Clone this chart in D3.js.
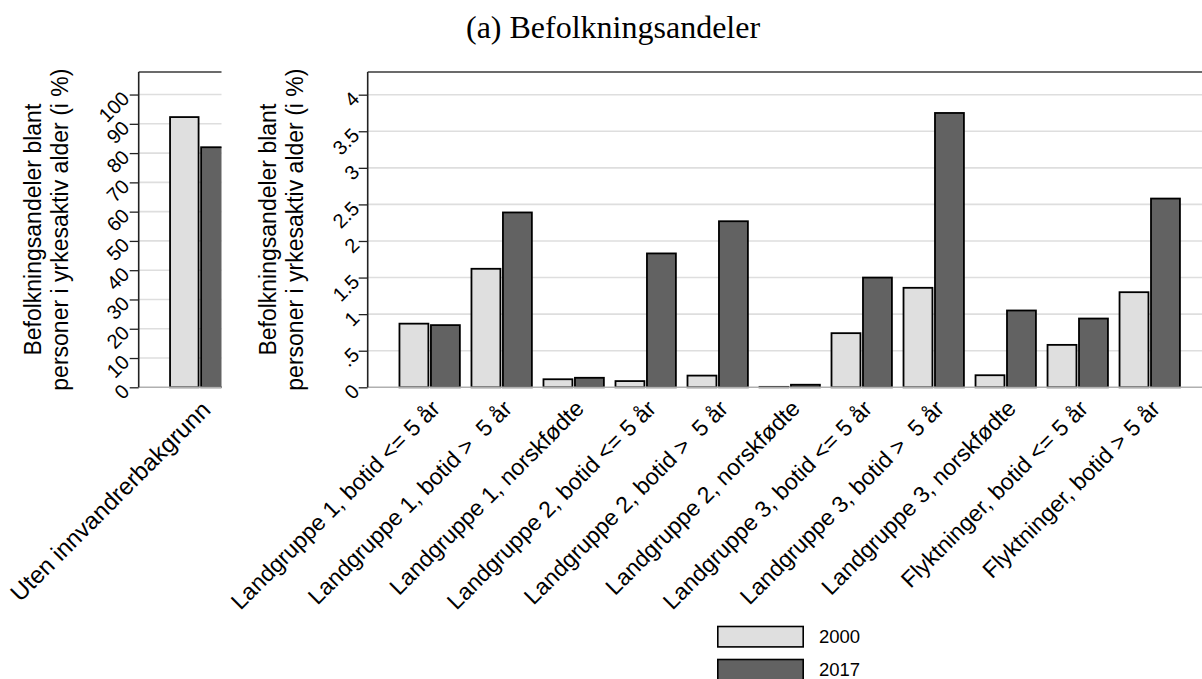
<!DOCTYPE html>
<html>
<head>
<meta charset="utf-8">
<script src="https://cdn.jsdelivr.net/npm/d3@7/dist/d3.min.js"></script>
<style>
  html, body { margin: 0; padding: 0; background: #ffffff; }
  svg { display: block; }
  text { font-family: "Liberation Sans", Arial, Helvetica, sans-serif; fill: #000; white-space: pre; }
</style>
</head>
<body>
<svg id="chart" width="1202" height="679"></svg>
<script>
// ---------------- data ----------------
const titleText = "(a) Befolkningsandeler";
const yTitleLines = ["Befolkningsandeler blant", "personer i yrkesaktiv alder (i %)"];
const seriesNames = ["2000", "2017"];

const leftCategories = ["Uten innvandrerbakgrunn"];
const left2000 = [92.3];
const left2017 = [82.0];
const leftTicks = [0, 10, 20, 30, 40, 50, 60, 70, 80, 90, 100];

const categories = [
  "Landgruppe 1, botid <= 5 år",
  "Landgruppe 1, botid >  5 år",
  "Landgruppe 1, norskfødte",
  "Landgruppe 2, botid <= 5 år",
  "Landgruppe 2, botid >  5 år",
  "Landgruppe 2, norskfødte",
  "Landgruppe 3, botid <= 5 år",
  "Landgruppe 3, botid >  5 år",
  "Landgruppe 3, norskfødte",
  "Flyktninger, botid <= 5 år",
  "Flyktninger, botid > 5 år"
];
const values2000 = [0.87, 1.62, 0.11, 0.085, 0.16, 0.006, 0.74, 1.36, 0.165, 0.58, 1.30];
const values2017 = [0.85, 2.39, 0.13, 1.83, 2.27, 0.035, 1.50, 3.75, 1.05, 0.94, 2.58];
const rightTicks = [0, 0.5, 1, 1.5, 2, 2.5, 3, 3.5, 4];

// ---------------- style ----------------
const fills = { "2000": "#dfdfdf", "2017": "#626262" };
const svg = d3.select("#chart");
const plotTop = 72, plotBottom = 387.3;
const padInner = 0.139, padOuter = 0.43;

function panel(opts) {
  const g = svg.append("g");
  const clipId = "clip" + opts.id;
  svg.append("clipPath").attr("id", clipId)
    .append("rect").attr("x", opts.x0 - 60).attr("y", 0)
    .attr("width", opts.clipRight - (opts.x0 - 60)).attr("height", 679);
  g.attr("clip-path", `url(#${clipId})`);

  const x = d3.scaleBand().domain(opts.cats).range([opts.x0, opts.x1])
    .paddingInner(padInner).paddingOuter(padOuter);
  const xs = d3.scaleBand().domain(seriesNames).range([0, x.bandwidth()]).paddingInner(0.03);
  const y = d3.scaleLinear().domain([0, opts.ymax]).range([plotBottom, plotTop]);

  // gridlines
  g.append("g").selectAll("line").data(opts.ticks.filter(t => t > 0)).join("line")
    .attr("x1", opts.x0).attr("x2", opts.x1)
    .attr("y1", d => y(d)).attr("y2", d => y(d))
    .attr("stroke", "#dedede").attr("stroke-width", 1.6);

  // bars
  const rows = opts.cats.map((c, i) => ({ c, vals: [opts.v1[i], opts.v2[i]] }));
  const grp = g.append("g").selectAll("g").data(rows).join("g")
    .attr("transform", d => `translate(${x(d.c)},0)`);
  grp.selectAll("rect").data(d => d.vals.map((v, k) => ({ s: seriesNames[k], v }))).join("rect")
    .attr("x", d => xs(d.s) + 0.8)
    .attr("width", xs.bandwidth() - 1.6)
    .attr("y", d => y(d.v))
    .attr("height", d => Math.max(0, y(0) - y(d.v)))
    .attr("fill", d => fills[d.s])
    .attr("stroke", "#000").attr("stroke-width", 1.8);

  // frame: top border and bottom baseline
  g.append("line").attr("x1", opts.x0).attr("x2", opts.x1).attr("y1", plotTop).attr("y2", plotTop)
    .attr("stroke", "#3a3a3a").attr("stroke-width", 1.6);
  g.append("line").attr("x1", opts.x0).attr("x2", opts.x1).attr("y1", plotBottom).attr("y2", plotBottom)
    .attr("stroke", "#b0b0b0").attr("stroke-width", 1.5);

  // y axis
  const yAxis = d3.axisLeft(y).tickValues(opts.ticks).tickSize(9).tickPadding(0)
    .tickFormat(opts.fmt);
  const ga = svg.append("g").attr("transform", `translate(${opts.x0},0)`).call(yAxis);
  ga.select(".domain").attr("stroke", "#222").attr("stroke-width", 1.6)
    .attr("d", `M0,${plotTop}V${plotBottom}`);
  ga.selectAll(".tick line").attr("stroke", "#222").attr("stroke-width", 1.3);
  ga.selectAll(".tick text")
    .attr("x", null).attr("dy", null)
    .attr("text-anchor", "end")
    .attr("dominant-baseline", "central")
    .attr("transform", `translate(${opts.tickDx},0) rotate(-45)`)
    .style("font-size", "20px").style("font-family", "'Liberation Sans', Arial, sans-serif")
    .attr("fill", "#000");

  // x category labels
  const gx = svg.append("g");
  gx.selectAll("text").data(opts.cats).join("text")
    .attr("transform", d => `translate(${x(d) + x.bandwidth() / 2 + opts.labDx},${plotBottom + opts.labDy}) rotate(-45)`)
    .attr("text-anchor", "end")
    .attr("dominant-baseline", "central")
    .style("font-size", opts.labSize + "px")
    .text(d => d);

  // y title
  const yt = svg.append("text")
    .attr("transform", `translate(${opts.titleX},${(plotTop + plotBottom) / 2}) rotate(-90)`)
    .attr("text-anchor", "middle")
    .style("font-size", "23px");
  yt.selectAll("tspan").data(yTitleLines).join("tspan")
    .attr("x", 0).attr("dy", (d, i) => i === 0 ? 0 : 27)
    .text(d => d);
}

panel({ id: "L", cats: leftCategories, v1: left2000, v2: left2017, x0: 138.7, x1: 261, clipRight: 221.5,
  ymax: 107.7, ticks: leftTicks, fmt: d3.format("d"), titleX: 41,
  tickDx: -13, labDx: 6, labDy: 18, labSize: 24 });

panel({ id: "R", cats: categories, v1: values2000, v2: values2017, x0: 367.7, x1: 1211.7, clipRight: 1202,
  ymax: 4.31, ticks: rightTicks, fmt: d => d === 0 ? "0" : String(d).replace(/^0\./, "."), titleX: 276,
  tickDx: -12, labDx: 6, labDy: 17, labSize: 23 });

// title
svg.append("text").attr("x", 466).attr("y", 37.5)
  .style("font-family", "'Liberation Serif', 'Times New Roman', serif")
  .style("font-size", "32px")
  .text(titleText);

// legend
const legend = svg.append("g").attr("transform", "translate(717,625.7)");
const li = legend.selectAll("g").data(seriesNames).join("g")
  .attr("transform", (d, i) => `translate(0,${i * 33})`);
li.append("rect").attr("x", 0.8).attr("y", 0.8).attr("width", 85.4).attr("height", 20.4)
  .attr("fill", d => fills[d]).attr("stroke", "#000").attr("stroke-width", 1.6);
li.append("text").attr("x", 102).attr("y", 11).attr("dominant-baseline", "central")
  .style("font-size", "18.5px").text(d => d);
</script>
</body>
</html>
